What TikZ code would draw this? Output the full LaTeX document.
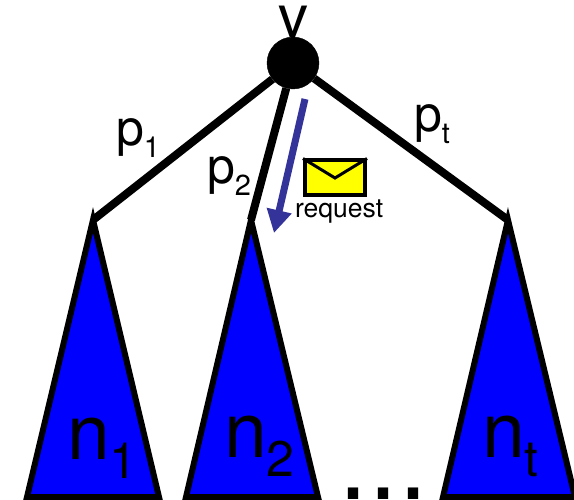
\documentclass[tikz,border=0pt]{standalone}
\usepackage{fontspec}
\setmainfont{TeX Gyre Heros}
\newfontfamily\dotfont{Liberation Sans}
\usepackage{xcolor}
\usetikzlibrary{arrows.meta}
\definecolor{treeBlue}{RGB}{0, 0, 255}
\definecolor{arrowIndigo}{RGB}{51, 51, 153}
\definecolor{mailYellow}{RGB}{255, 255, 0}
\newcommand{\treelab}[2]{\fontsize{77}{77}\selectfont #1\raisebox{-19pt}{\fontsize{50}{50}\selectfont #2}}
\newcommand{\pathlab}[2]{\fontsize{50}{50}\selectfont #1\raisebox{-12pt}{\fontsize{29}{29}\selectfont #2}}
\begin{document}
\begin{tikzpicture}[
  x=1pt, y=-1pt,
  vertex/.style={circle, fill=black, draw=black, inner sep=0pt, minimum size=52pt},
  subtree/.style={draw=black, fill=treeBlue, line width=6pt, line join=miter, miter limit=10},
  edge/.style={draw=black, line width=8pt},
  word/.style={anchor=base west, inner sep=0pt, outer sep=0pt},
  request/.style={draw=arrowIndigo, line width=7pt, -{Triangle[length=23pt, width=24pt]}},
  mail/.style={rectangle, draw=black, fill=mailYellow, line width=4pt, minimum width=60pt, minimum height=35pt, inner sep=0pt}
]
  \useasboundingbox (0,0) rectangle (574,500);

  % subtrees
  \coordinate (top1) at (93,220);
  \coordinate (top2) at (251,220);
  \coordinate (top3) at (508,220);
  \draw[subtree] (top1) -- (27,497) -- (159,497) -- cycle;
  \draw[subtree] (top2) -- (186,497) -- (318,497) -- cycle;
  \draw[subtree] (top3) -- (443,497) -- (575,497) -- cycle;

  \node[vertex] (root) at (293,63) {};
  \draw[edge] (root) -- (top1);
  \draw[edge] (root) -- (top2);
  \draw[edge] (root) -- (top3);

  \node[word] (rootname) at (278,38) {\fontsize{60}{60}\selectfont v};
  \node[word] (p1) at (116,146) {\pathlab{p}{1}};
  \node[word] (p2) at (207,184) {\pathlab{p}{2}};
  \node[word] (pt) at (414,132) {\pathlab{p}{t}};
  \node[word] (n1) at (67,460) {\treelab{n}{1}};
  \node[word] (n2) at (224,457) {\treelab{n}{2}};
  \node[word] (nt) at (482,457) {\treelab{n}{t}};
  \node[word] (dots) at (338,499) {\dotfont\fontsize{108}{108}\selectfont ...};

  % message going down
  \coordinate (from) at (305,99);
  \coordinate (to) at (274,233);
  \draw[request] (from) -- (to);
  \node[mail] (env) at (335,178) {};
  \draw[black, line width=3pt] (env.north west) -- (env.center) -- (env.north east);
  \node[word] (reqname) at (295,218) {\fontsize{26.5}{26.5}\selectfont request};
\end{tikzpicture}
\end{document}
